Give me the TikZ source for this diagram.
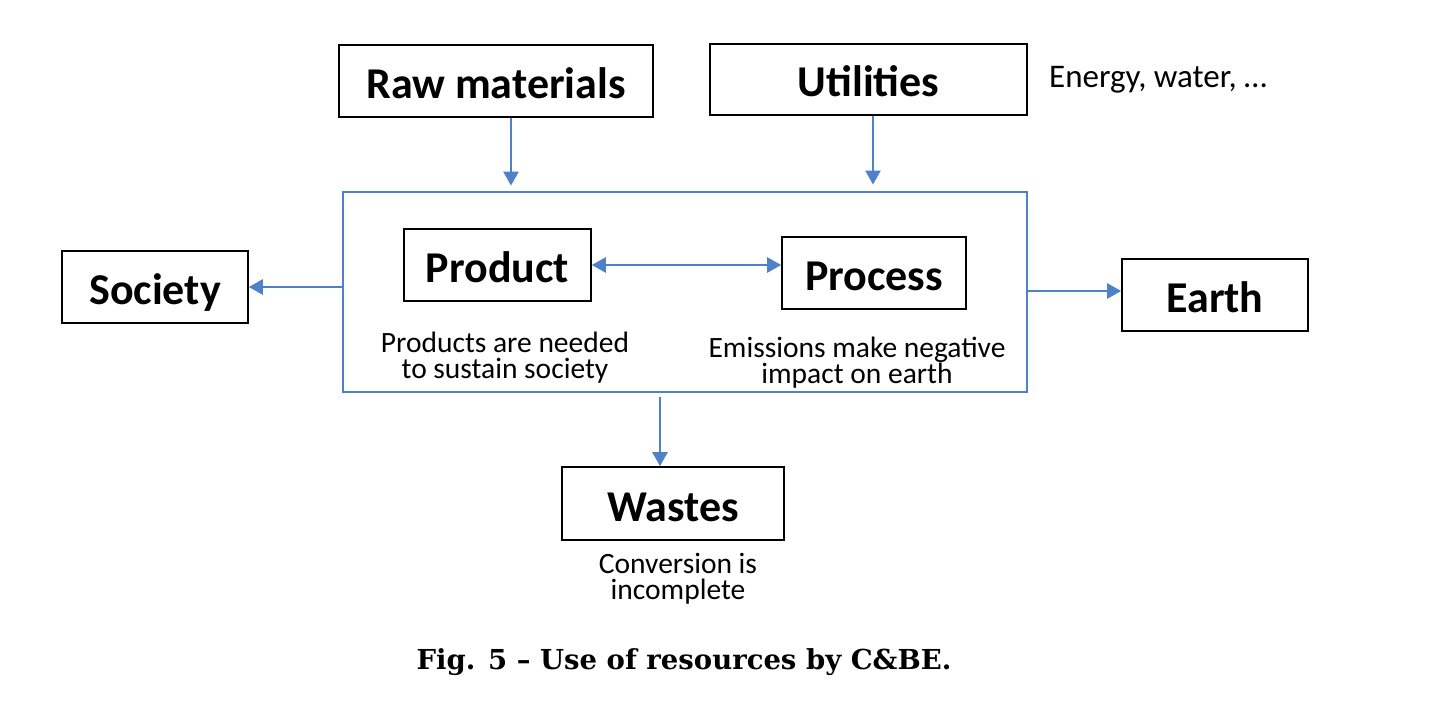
\documentclass[tikz,border=0pt]{standalone}
\usepackage{fontspec}
\setmainfont{Carlito}
\newfontfamily\capfont{DejaVu Serif}
\usetikzlibrary{arrows.meta}
\definecolor{flowblue}{HTML}{4F81C9}
\tikzset{
  blackbox/.style={draw=black, line width=1.6pt, fill=white, font=\fontsize{44}{44}\selectfont\bfseries, text height=35pt, text depth=0pt, inner sep=0pt},
  note/.style={font=\fontsize{29.5}{26}\selectfont, align=center, inner sep=0pt},
  arr/.style={draw=flowblue, line width=2.4pt, -{Triangle[length=14pt,width=15pt]}},
  dblarr/.style={draw=flowblue, line width=2.4pt, {Triangle[length=14pt,width=15pt]}-{Triangle[length=14pt,width=15pt]}},
}
\begin{document}
\begin{tikzpicture}[x=1pt,y=-1pt]
\useasboundingbox (0,0) rectangle (1431,711);
\fill[white] (0,0) rectangle (1431,711);

\node[draw=flowblue, line width=2.8pt, minimum width=684pt, minimum height=200pt, inner sep=0pt] (main) at (685,292) {};

\node[blackbox, minimum width=314pt, minimum height=72pt] (raw) at (496,81) {Raw materials};
\node[blackbox, minimum width=317pt, minimum height=71pt] (util) at (868.5,79.5) {Utilities};
\node[note, font=\fontsize{33}{33}\selectfont, anchor=west] (energy) at (1049,80) {Energy, water, …};

\node[blackbox, minimum width=187pt, minimum height=72pt] (product) at (497.5,265) {Product};
\node[blackbox, minimum width=184pt, minimum height=72pt] (process) at (874,273) {Process};
\node[blackbox, minimum width=186pt, minimum height=72pt] (society) at (155,287) {Society};
\node[blackbox, minimum width=186pt, minimum height=72pt] (earth) at (1215,295) {Earth};
\node[blackbox, minimum width=222pt, minimum height=73pt] (wastes) at (673,503.5) {Wastes};

\node[note] (prodnote) at (505,358) {Products are needed\\to sustain society};
\node[note] (procnote) at (857,363) {Emissions make negative\\impact on earth};
\node[note] (wastenote) at (678,579) {Conversion is\\incomplete};

\node[font=\capfont\bfseries\fontsize{27.5}{30}\selectfont, inner sep=0pt] (caption) at (684,662) {Fig. 5 – Use of resources by C\&BE.};

\draw[arr, shorten >=5pt] ([xshift=15pt]raw.south) -- ([xshift=15pt]raw.south |- main.north);
\draw[arr, shorten >=6pt] ([xshift=4.5pt]util.south) -- ([xshift=4.5pt]util.south |- main.north);
\draw[arr] (society.east -| main.west) -- (society.east);
\draw[arr] ([yshift=4pt]earth.west -| main.east) -- ([yshift=4pt]earth.west);
\draw[dblarr] (product.east) -- (product.east -| process.west);
\draw[arr, shorten <=4pt] ([xshift=-13pt]wastes.north |- main.south) -- ([xshift=-13pt]wastes.north);
\end{tikzpicture}
\end{document}
